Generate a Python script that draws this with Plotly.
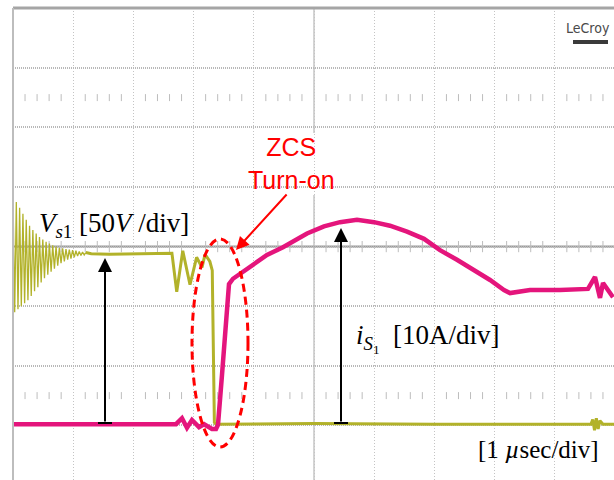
import plotly.graph_objects as go

# ---------------- data (time in µs, 1 µs/div; V_s1 in V, i_S1 in A) ----------------
t_v = [0.000, 0.028, 0.055, 0.083, 0.110, 0.138, 0.165, 0.193, 0.220, 0.248,
       0.275, 0.303, 0.330, 0.358, 0.385, 0.413, 0.440, 0.468, 0.495, 0.523,
       0.550, 0.578, 0.605, 0.633, 0.660, 0.688, 0.715, 0.743, 0.770, 0.798,
       0.825, 0.853, 0.880, 0.908, 0.935, 0.963, 0.990, 1.018, 1.045, 1.073,
       1.100, 1.128, 1.155, 1.183, 1.210, 1.300, 1.600, 2.100, 2.640, 2.720,
       2.820, 2.940, 3.050, 3.140, 3.190, 3.270, 3.310, 3.345, 3.370, 5.000,
       7.000, 9.600, 9.630, 9.660, 9.690, 9.720, 9.750, 9.800, 9.983]
v_s1 = [191.5, 94.0, 186.5, 96.5, 181.5, 99.0, 176.5, 101.5, 171.5, 104.0,
        166.5, 107.5, 163.0, 111.5, 160.0, 115.0, 157.0, 119.0, 155.0, 122.5,
        153.0, 125.5, 151.5, 128.0, 150.0, 130.5, 149.0, 133.0, 148.0, 135.0,
        147.5, 136.5, 147.0, 138.0, 146.5, 139.0, 146.0, 140.0, 145.5, 141.0,
        145.0, 141.5, 144.5, 142.0, 144.0, 143.0, 142.5, 143.0, 143.5, 111.0,
        145.5, 117.0, 140.0, 131.5, 142.5, 136.5, 129.0, 1.5, 0.0, 0.5,
        0.0, 0.0, 4.0, -5.0, 5.0, -4.0, 3.0, 0.0, 0.0]

t_i = [0.000, 2.708, 2.807, 2.890, 2.973, 3.090, 3.173, 3.306, 3.372, 3.405,
       3.472, 3.538, 3.588, 3.654, 3.937, 4.219, 4.485, 4.767, 4.884, 5.166,
       5.432, 5.714, 5.997, 6.262, 6.545, 6.827, 7.093, 7.375, 7.658, 7.924,
       8.156, 8.256, 8.588, 9.086, 9.551, 9.668, 9.751, 9.801, 9.967]
i_s1 = [0.0, 0.0, 1.0, -0.6, 0.7, -0.5, 0.0, -0.8, -0.8, -0.1,
        8.3, 17.5, 23.5, 24.4, 26.5, 28.4, 29.7, 31.4, 32.0, 33.2,
        33.9, 34.3, 33.9, 33.3, 32.3, 31.1, 29.2, 27.6, 25.9, 24.2,
        22.5, 22.0, 22.5, 22.5, 22.7, 24.7, 21.2, 23.7, 21.3]

RING_END = 45   # number of samples in the initial ringing section

# ---------------- geometry helpers (screen layout only) ----------------
W, H = 614, 480
L, T = 13, 8
DIVX, DIVY = 60.2, 59.6
GND = 1.02            # ground level of both channels in divisions
VDIV, IDIV = 50, 10   # V/div, A/div


def px2t(px):
    return (px - L) / DIVX


def py2div(py):
    return (485 - py) / DIVY


def py2v(py):
    return (py2div(py) - GND) * VDIV


def xp(px):
    return (px - L) / (W - L)


def yp(py):
    return (H - py) / (H - T)


x_max = px2t(W)
div_lo, div_hi = py2div(H), py2div(T)

fig = go.Figure()

# grid tick rows (decoration)
tick_t = [k * 0.2 for k in range(1, 50) if k % 5 != 0]
for dv, sz in [(6.5, 5), (1.5, 5), (4.0, 8)]:
    fig.add_trace(go.Scatter(
        x=tick_t, y=[(dv - GND) * VDIV] * len(tick_t), mode="markers",
        marker=dict(symbol="line-ns", size=sz, line=dict(width=1, color="#bdbdbd")),
        hoverinfo="skip", showlegend=False))

YEL = "#b2b22a"
MAG = "#e4157c"
fig.add_trace(go.Scatter(x=t_v[:RING_END], y=v_s1[:RING_END], mode="lines",
                         line=dict(color=YEL, width=1.3), showlegend=False))
fig.add_trace(go.Scatter(x=t_v[RING_END - 1:], y=v_s1[RING_END - 1:], mode="lines",
                         line=dict(color=YEL, width=3), showlegend=False))
fig.add_trace(go.Scatter(x=t_i, y=i_s1, mode="lines", yaxis="y2",
                         line=dict(color=MAG, width=4.5), showlegend=False))

shapes = []
# center lines
shapes.append(dict(type="line", xref="paper", yref="y", x0=0, x1=1,
                   y0=(4 - GND) * VDIV, y1=(4 - GND) * VDIV,
                   line=dict(color="#9a9a9a", width=2), layer="between"))
shapes.append(dict(type="line", xref="x", yref="paper", x0=5, x1=5, y0=0, y1=1,
                   line=dict(color="#a8a8a8", width=1), layer="between"))
# white box behind ZCS text
shapes.append(dict(type="rect", xref="paper", yref="paper",
                   x0=xp(237), x1=xp(347), y0=yp(195), y1=yp(133),
                   fillcolor="white", line=dict(width=0), layer="between"))
# frame
shapes.append(dict(type="line", xref="paper", yref="paper", x0=0, x1=1, y0=1, y1=1,
                   line=dict(color="#a5a5a5", width=3)))
shapes.append(dict(type="line", xref="paper", yref="paper", x0=0, x1=0, y0=0, y1=1,
                   line=dict(color="#bdbdbd", width=2)))
# arrow base bars
for cx in (105, 341):
    shapes.append(dict(type="line", xref="x", yref="y",
                       x0=px2t(cx - 7), x1=px2t(cx + 7), y0=py2v(423), y1=py2v(423),
                       line=dict(color="black", width=2)))
# dashed ellipse
shapes.append(dict(type="circle", xref="x", yref="y",
                   x0=px2t(192), x1=px2t(248), y0=py2v(447), y1=py2v(239),
                   line=dict(color="#ff0000", width=3, dash="8px,5px")))
# LeCroy bar
shapes.append(dict(type="rect", xref="paper", yref="paper",
                   x0=xp(573), x1=xp(608), y0=yp(44), y1=yp(40),
                   fillcolor="#3a3a3a", line=dict(width=0)))

SERIF = "Liberation Serif, Times New Roman, serif"
SANS = "Liberation Sans, Arial, sans-serif"
ann = []
# black arrows
ann.append(dict(x=px2t(105), y=py2v(258), ax=px2t(105), ay=py2v(423),
                xref="x", yref="y", axref="x", ayref="y", text="",
                showarrow=True, arrowhead=2, arrowsize=1.4, arrowwidth=2,
                arrowcolor="black"))
ann.append(dict(x=px2t(341), y=py2v(228), ax=px2t(341), ay=py2v(423),
                xref="x", yref="y", axref="x", ayref="y", text="",
                showarrow=True, arrowhead=2, arrowsize=1.4, arrowwidth=2,
                arrowcolor="black"))
# red arrow
ann.append(dict(x=px2t(236), y=py2v(250), ax=px2t(288), ay=py2v(193),
                xref="x", yref="y", axref="x", ayref="y", text="",
                showarrow=True, arrowhead=2, arrowsize=1.3, arrowwidth=2,
                arrowcolor="#ff0000"))
# texts
ann.append(dict(x=xp(291), y=yp(163), xref="paper", yref="paper",
                text="ZCS<br>Turn-on", showarrow=False,
                font=dict(family=SANS, size=25, color="#ff0000"),
                xanchor="center", yanchor="middle"))
ann.append(dict(x=xp(37), y=yp(225), xref="paper", yref="paper",
                text="<i>V</i><sub><i>s</i>1</sub> [50<i>V</i> /div]", showarrow=False,
                font=dict(family=SERIF, size=27, color="black"),
                xanchor="left", yanchor="middle"))
ann.append(dict(x=xp(354), y=yp(338), xref="paper", yref="paper",
                text="<i>i</i><sub><i>S</i><sub>1</sub></sub>  [10A/div]", showarrow=False,
                font=dict(family=SERIF, size=27, color="black"),
                xanchor="left", yanchor="middle"))
ann.append(dict(x=xp(538), y=yp(449), xref="paper", yref="paper",
                text="[1 <i>µ</i>sec/div]", showarrow=False,
                font=dict(family=SERIF, size=25, color="black"),
                xanchor="center", yanchor="middle"))
ann.append(dict(x=xp(612), y=yp(28), xref="paper", yref="paper",
                text="LeCroy", showarrow=False,
                font=dict(family="Liberation Sans Narrow, DejaVu Sans Condensed, Arial Narrow, sans-serif",
                          size=14, color="#4a4a4a"),
                xanchor="right", yanchor="middle"))

fig.update_layout(
    width=W, height=H,
    margin=dict(l=L, r=0, t=T, b=0, pad=0),
    paper_bgcolor="white", plot_bgcolor="white",
    showlegend=False,
    shapes=shapes, annotations=ann,
    xaxis=dict(range=[0, x_max], tick0=0, dtick=1, showgrid=True,
               gridcolor="#c4c4c4", gridwidth=1, griddash="1px,2px",
               showticklabels=False, ticks="", zeroline=False, showline=False),
    yaxis=dict(range=[(div_lo - GND) * VDIV, (div_hi - GND) * VDIV],
               tick0=-GND * VDIV, dtick=VDIV, showgrid=True,
               gridcolor="#b8b8b8", gridwidth=2, griddash="1px,1px",
               showticklabels=False, ticks="", zeroline=False, showline=False),
    yaxis2=dict(range=[(div_lo - GND) * IDIV, (div_hi - GND) * IDIV],
                overlaying="y", showgrid=False, showticklabels=False,
                ticks="", zeroline=False, showline=False),
)

fig.write_html("out.html")
